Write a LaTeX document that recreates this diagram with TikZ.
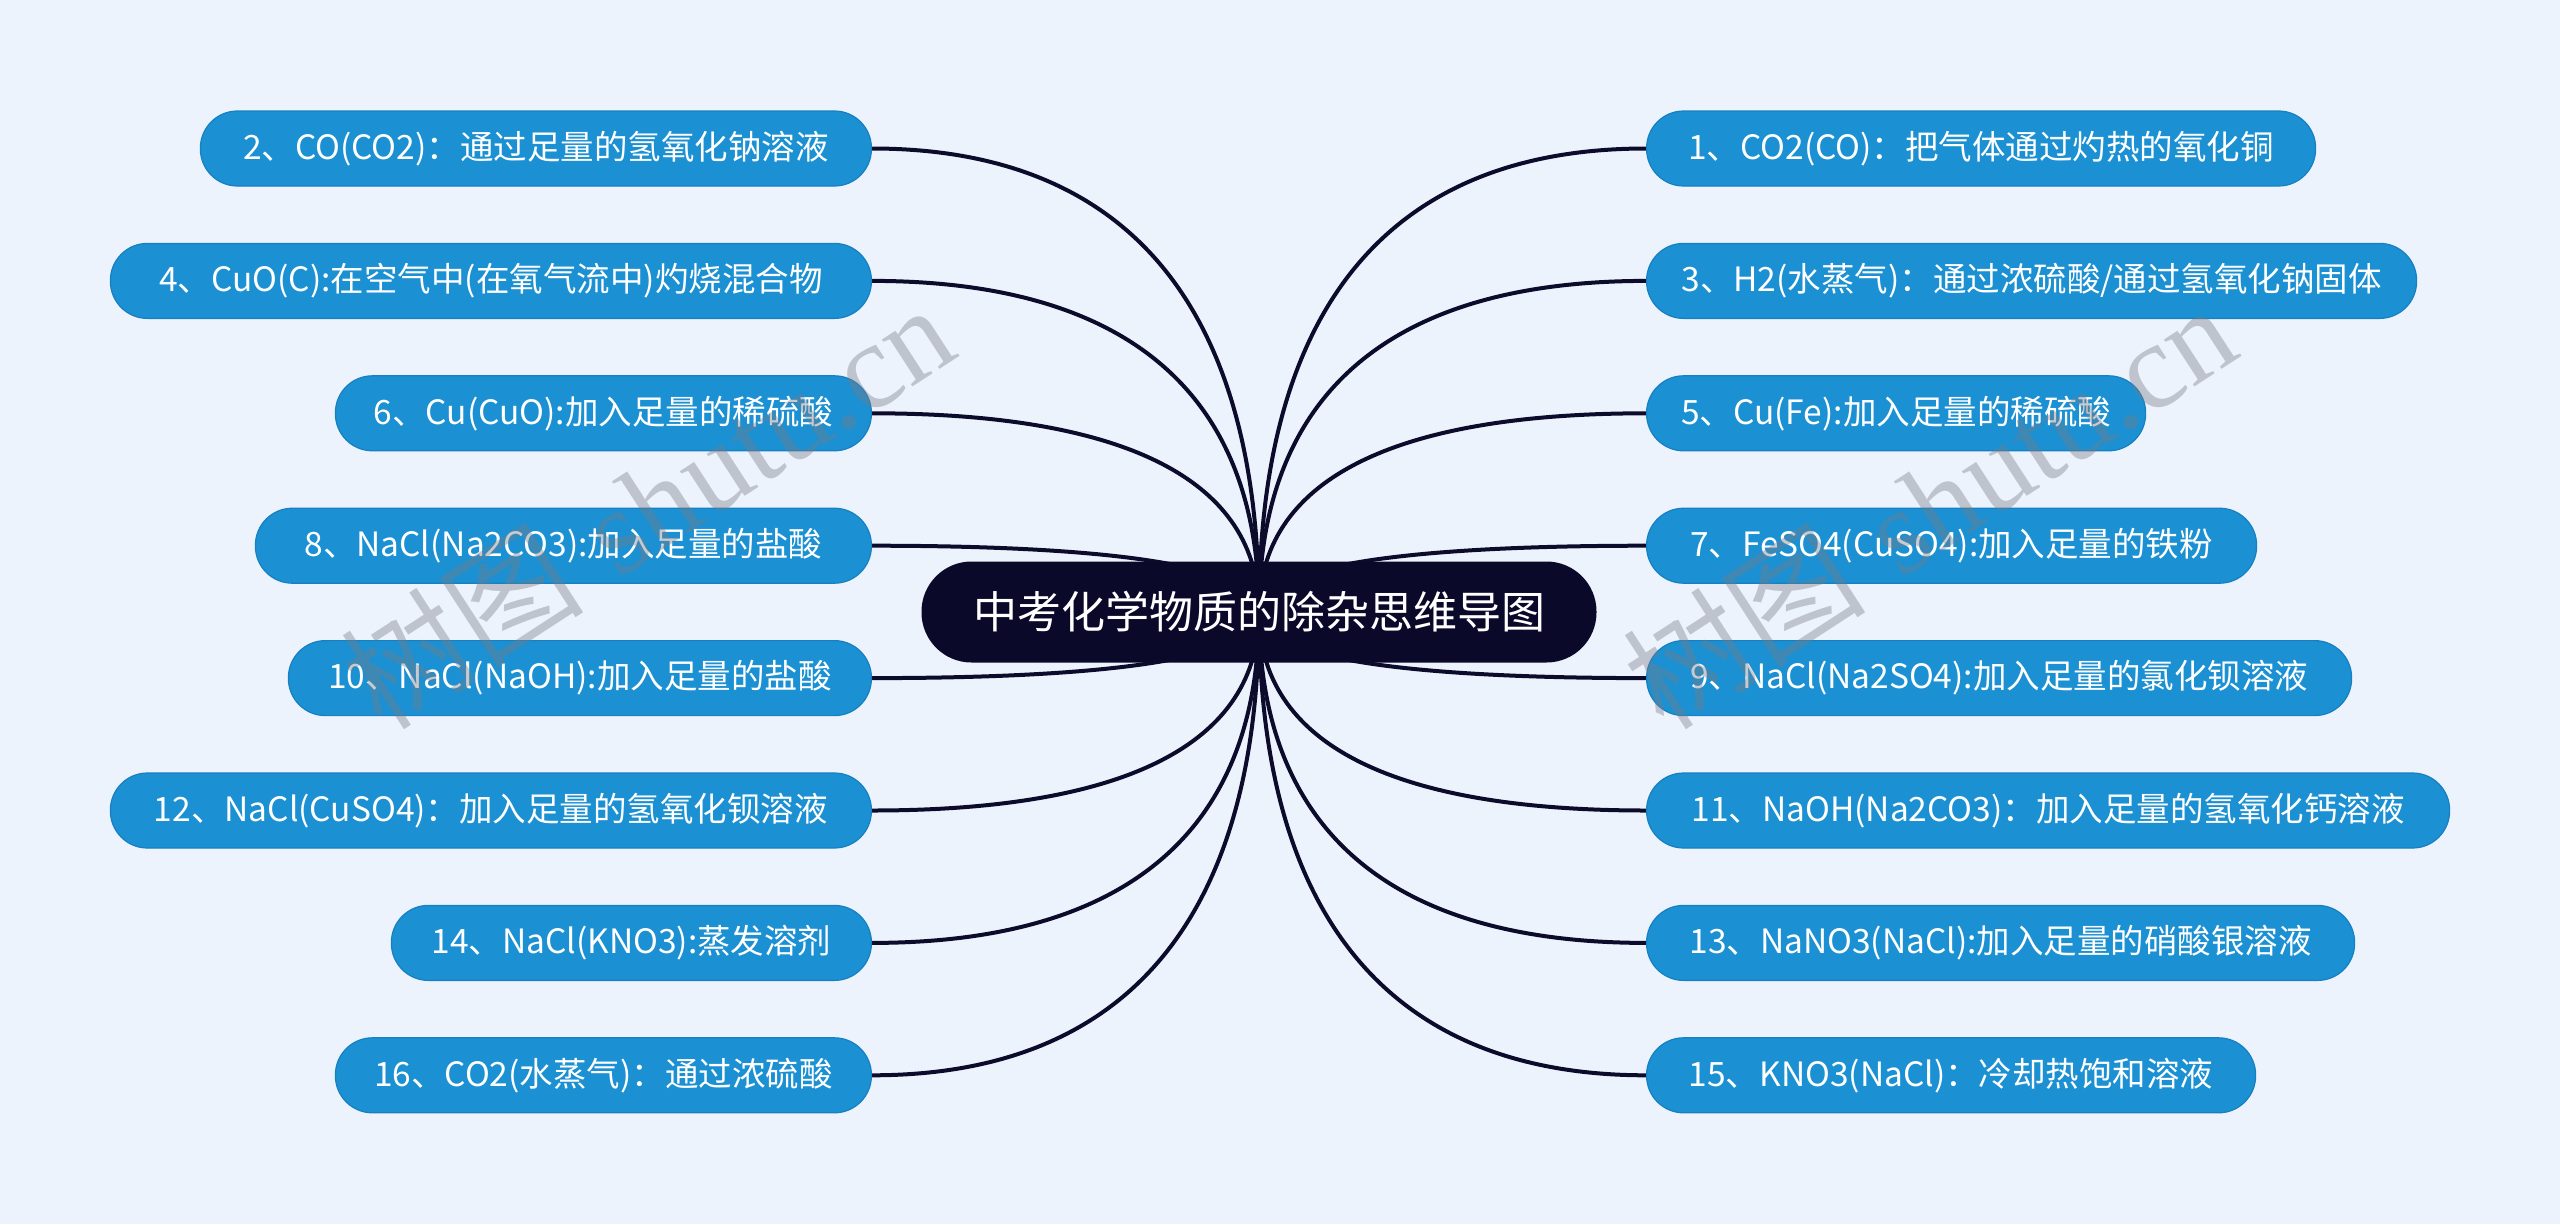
\documentclass[tikz,border=0pt]{standalone}
\usepackage{fontspec}
\newfontfamily\cjk{Noto Sans CJK SC}
\newfontfamily\wmserif{Liberation Serif}
\usetikzlibrary{calc}
\pgfdeclarelayer{bg}
\pgfdeclarelayer{lines}
\pgfsetlayers{bg,lines,main}
\definecolor{bgcol}{RGB}{237,243,253}
\definecolor{leafblue}{RGB}{27,144,210}
\definecolor{leafedge}{RGB}{22,128,192}
\definecolor{rootcol}{RGB}{11,9,42}
\definecolor{linecol}{RGB}{13,11,43}
\definecolor{wmgray}{RGB}{120,124,135}
\tikzset{
  leaf/.style={fill=leafblue, draw=leafedge, line width=1.2pt, rounded corners=37pt,
    minimum height=75pt, inner sep=0pt, text=white, font=\cjk\fontsize{33.5}{40}\selectfont},
  leftleaf/.style={leaf, anchor=east},
  rightleaf/.style={leaf, anchor=west},
  rootbox/.style={fill=rootcol, draw=none, rounded corners=50pt, minimum width=675pt,
    minimum height=101pt, inner sep=0pt, text=white, font=\cjk\fontsize{44}{52}\selectfont},
  conn/.style={draw=linecol, line width=4pt},
  wmark/.style={text=wmgray, opacity=0.4, rotate=33, inner sep=0pt,
    font=\fontsize{122}{130}\selectfont}
}
\begin{document}
\begin{tikzpicture}[x=1pt,y=-1pt]
\begin{pgfonlayer}{bg}
\fill[bgcol] (0,0) rectangle (2560,1224);
\end{pgfonlayer}
\useasboundingbox (0,0) rectangle (2560,1224);

\node[rootbox] (root) at (1259,612) {中考化学物质的除杂思维导图};

% left side
\node[leftleaf, minimum width=671pt] (L2) at (872,148.5) {2、CO(CO2)：通过足量的氢氧化钠溶液};
\node[leftleaf, minimum width=761pt] (L4) at (872,280.9) {4、CuO(C):在空气中(在氧气流中)灼烧混合物};
\node[leftleaf, minimum width=536pt] (L6) at (872,413.3) {6、Cu(CuO):加入足量的稀硫酸};
\node[leftleaf, minimum width=616pt] (L8) at (872,545.7) {8、NaCl(Na2CO3):加入足量的盐酸};
\node[leftleaf, minimum width=583pt] (L10) at (872,678.1) {10、NaCl(NaOH):加入足量的盐酸};
\node[leftleaf, minimum width=761pt] (L12) at (872,810.5) {12、NaCl(CuSO4)：加入足量的氢氧化钡溶液};
\node[leftleaf, minimum width=480pt] (L14) at (872,942.9) {14、NaCl(KNO3):蒸发溶剂};
\node[leftleaf, minimum width=536pt] (L16) at (872,1075.3) {16、CO2(水蒸气)：通过浓硫酸};

% right side
\node[rightleaf, minimum width=669pt] (R1) at (1646,148.5) {1、CO2(CO)：把气体通过灼热的氧化铜};
\node[rightleaf, minimum width=770pt] (R3) at (1646,280.9) {3、H2(水蒸气)：通过浓硫酸/通过氢氧化钠固体};
\node[rightleaf, minimum width=499pt] (R5) at (1646,413.3) {5、Cu(Fe):加入足量的稀硫酸};
\node[rightleaf, minimum width=610pt] (R7) at (1646,545.7) {7、FeSO4(CuSO4):加入足量的铁粉};
\node[rightleaf, minimum width=705pt] (R9) at (1646,678.1) {9、NaCl(Na2SO4):加入足量的氯化钡溶液};
\node[rightleaf, minimum width=803pt] (R11) at (1646,810.5) {11、NaOH(Na2CO3)：加入足量的氢氧化钙溶液};
\node[rightleaf, minimum width=708pt] (R13) at (1646,942.9) {13、NaNO3(NaCl):加入足量的硝酸银溶液};
\node[rightleaf, minimum width=609pt] (R15) at (1646,1075.3) {15、KNO3(NaCl)：冷却热饱和溶液};

% connectors
\begin{pgfonlayer}{lines}
\foreach \nd in {L2,L4,L6,L8,L10,L12,L14,L16}{
  \draw[conn] let \p1=(\nd.east), \p2=(root.center) in
    (\p1) .. controls ({\x1+0.66*(\x2-\x1)},\y1) and (\x2,{\y1+0.34*(\y2-\y1)}) .. (\p2);
}
\foreach \nd in {R1,R3,R5,R7,R9,R11,R13,R15}{
  \draw[conn] let \p1=(\nd.west), \p2=(root.center) in
    (\p1) .. controls ({\x1+0.66*(\x2-\x1)},\y1) and (\x2,{\y1+0.34*(\y2-\y1)}) .. (\p2);
}
\end{pgfonlayer}

% watermarks
\node[wmark] (wm1) at (647,505) {{\cjk 树图} {\wmserif shutu.cn}};
\node[wmark] (wm2) at (1929,505) {{\cjk 树图} {\wmserif shutu.cn}};
\end{tikzpicture}
\end{document}
